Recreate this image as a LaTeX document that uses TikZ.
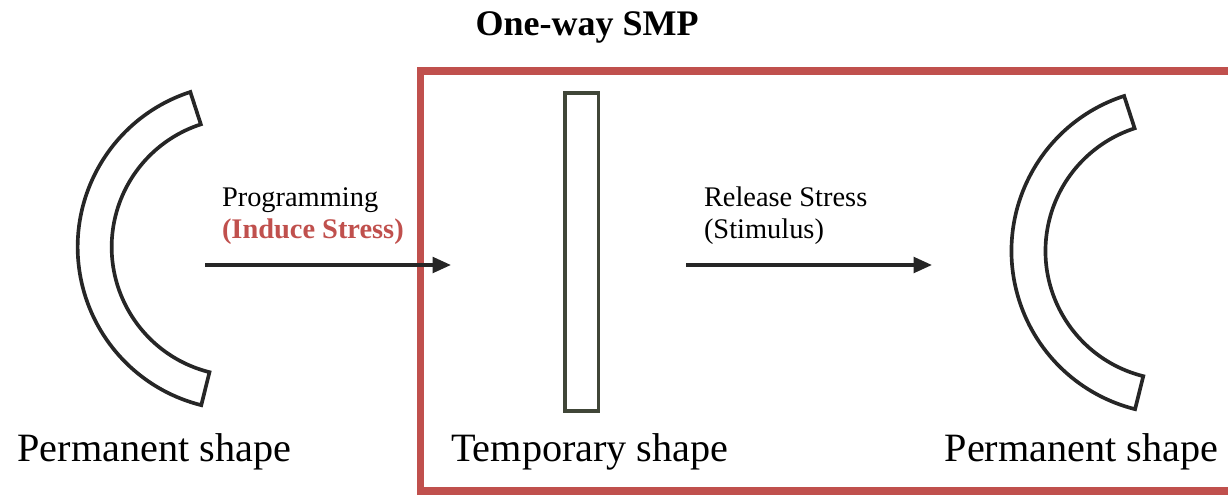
\documentclass[tikz,border=0pt]{standalone}
\usepackage{fontspec}
\setmainfont{Liberation Serif}
\usetikzlibrary{positioning,arrows.meta}
\definecolor{smpred}{HTML}{C0504D}
\definecolor{stripgray}{HTML}{404638}
\definecolor{inkblack}{HTML}{262626}

\begin{document}
\begin{tikzpicture}[x=0.025cm, y=-0.025cm]
	\useasboundingbox (0,0) rectangle (1228,494);
	\tikzstyle{every node}=[inner sep=0pt, outer sep=0pt]
	\tikzstyle{shapelabel}=[anchor=base, font=\fontsize{28.6}{34}\selectfont]
	\tikzstyle{steplabel}=[anchor=base west, font=\fontsize{20.2}{24}\selectfont]
	\tikzstyle{flow}=[line width=2.5pt, inkblack, -{Triangle[length=13pt,width=11pt]}]
	\tikzstyle{sample}=[line width=2.6pt, inkblack, line join=miter]

	% one-way frame, cut off at the page edge
	\begin{scope}
		\clip (0,0) rectangle (1228,494);
		\draw[smpred, line width=5.4pt] (420.5,71.2) rectangle (1240,491);
	\end{scope}
	\node[anchor=base, font=\bfseries\fontsize{25.6}{30}\selectfont] (title) at (587,35) {One-way SMP};

	% bent samples
	\coordinate (leftbend) at (240.7,247);
	\coordinate (rightbend) at (1174.5,251);
	\foreach \c in {leftbend, rightbend}
		\draw[sample] ([shift={(252:163)}]\c) arc[start angle=252, end angle=104, radius=163]
			-- ([shift={(104:129)}]\c) arc[start angle=104, end angle=252, radius=129] -- cycle;

	% straight sample
	\node[draw=stripgray, line width=2.6pt, minimum width=33.3*0.025cm, minimum height=318*0.025cm] (strip) at (581.7,252.3) {};

	% arrows
	\coordinate (prog start) at (205,265);
	\coordinate (prog end) at (451,265);
	\coordinate (rel start) at (686,265);
	\coordinate (rel end) at (932,265);
	\draw[flow] (prog start) -- (prog end);
	\draw[flow] (rel start) -- (rel end);

	\node[steplabel] (prog) at (222,206.7) {Programming};
	\node[steplabel, text=smpred, font=\bfseries\fontsize{20.2}{24}\selectfont] (induce) at (222,238) {(Induce Stress)};
	\node[steplabel] (rel) at (704,206.7) {Release Stress};
	\node[steplabel] (stim) at (704,238) {(Stimulus)};

	\node[shapelabel] (perm1) at (154.2,461.5) {Permanent shape};
	\node[shapelabel] (temp) at (589.8,461.5) {Temporary shape};
	\node[shapelabel] (perm2) at (1081.5,461.5) {Permanent shape};
\end{tikzpicture}
\end{document}
